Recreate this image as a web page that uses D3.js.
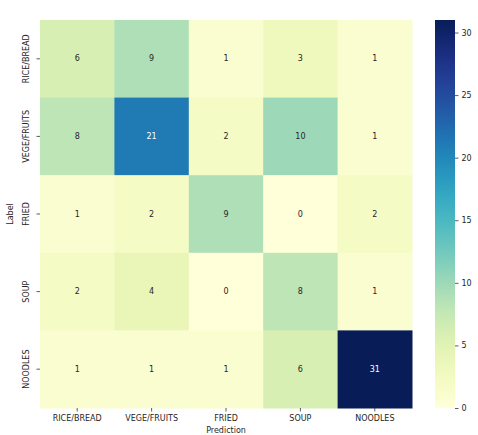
<!DOCTYPE html>
<html><head><meta charset="utf-8">
<script src="https://cdn.jsdelivr.net/npm/d3@7"></script>
<style>body{margin:0;background:#fff;} text{font-family:"DejaVu Sans",sans-serif;}</style>
</head><body>
<svg id="c" width="478" height="435"></svg>
<script>
const categories = ["RICE/BREAD","VEGE/FRUITS","FRIED","SOUP","NOODLES"];
const row0 = [6, 9, 1, 3, 1];
const row1 = [8, 21, 2, 10, 1];
const row2 = [1, 2, 9, 0, 2];
const row3 = [2, 4, 0, 8, 1];
const row4 = [1, 1, 1, 6, 31];
const matrix = [row0,row1,row2,row3,row4];
const colorTicks = [0,5,10,15,20,25,30];
const vmin = 0, vmax = 31;

const svg = d3.select("#c");
const L = 40, T = 20, R = 412, B = 408;
const x = d3.scaleBand().domain(categories).range([L,R]);
const y = d3.scaleBand().domain(categories).range([T,B]);
const color = d3.scaleSequential(d3.interpolateYlGnBu).domain([vmin,vmax]);

const cells = [];
matrix.forEach((r,i)=>r.forEach((v,j)=>cells.push({row:categories[i],col:categories[j],v})));
svg.selectAll("rect.cell").data(cells).join("rect").attr("class","cell")
  .attr("x",d=>x(d.col)).attr("y",d=>y(d.row))
  .attr("width",x.bandwidth()+0.5).attr("height",y.bandwidth()+0.5)
  .attr("fill",d=>color(d.v));
svg.selectAll("text.ann").data(cells).join("text").attr("class","ann")
  .attr("x",d=>x(d.col)+x.bandwidth()/2).attr("y",d=>y(d.row)+y.bandwidth()/2)
  .attr("text-anchor","middle").attr("dominant-baseline","central")
  .attr("font-size",8)
  .attr("fill",d=>d.v/vmax>0.55?"#ffffff":"#262626")
  .text(d=>d.v);

// x axis
const xa = svg.append("g").attr("transform",`translate(0,${B})`)
  .call(d3.axisBottom(x).tickSize(3.5).tickPadding(4));
xa.select(".domain").remove();
xa.selectAll("line").attr("stroke","#333").attr("stroke-width",0.8);
xa.selectAll("text").attr("font-size",8).attr("fill","#262626").attr("font-family","DejaVu Sans");
// y axis
const ya = svg.append("g").attr("transform",`translate(${L},0)`)
  .call(d3.axisLeft(y).tickSize(3.5).tickPadding(4));
ya.select(".domain").remove();
ya.selectAll("line").attr("stroke","#333").attr("stroke-width",0.8);
ya.selectAll("text").attr("font-size",8).attr("fill","#262626").attr("font-family","DejaVu Sans")
  .attr("text-anchor","middle").attr("dy",null).attr("x",null)
  .attr("transform","translate(-11,0) rotate(-90)");

svg.append("text").attr("x",(L+R)/2).attr("y",433).attr("text-anchor","middle")
  .attr("font-size",8).attr("fill","#262626").text("Prediction");
svg.append("text").attr("transform",`translate(13,${(T+B)/2}) rotate(-90)`).attr("text-anchor","middle")
  .attr("font-size",8).attr("fill","#262626").text("Label");

// colorbar
const cbX = 435, cbW = 20;
const cy = d3.scaleLinear().domain([vmin,vmax]).range([B,T]);
const defs = svg.append("defs");
const grad = defs.append("linearGradient").attr("id","g").attr("x1",0).attr("y1",1).attr("x2",0).attr("y2",0);
d3.range(0,1.0001,0.05).forEach(t=>grad.append("stop").attr("offset",t).attr("stop-color",color(vmin+t*(vmax-vmin))));
svg.append("rect").attr("x",cbX).attr("y",T).attr("width",cbW).attr("height",B-T).attr("fill","url(#g)");
const ca = svg.append("g").attr("transform",`translate(${cbX+cbW},0)`)
  .call(d3.axisRight(cy).tickValues(colorTicks).tickSize(3.5).tickPadding(3));
ca.select(".domain").remove();
ca.selectAll("line").attr("stroke","#333").attr("stroke-width",0.8);
ca.selectAll("text").attr("font-size",8).attr("fill","#262626").attr("font-family","DejaVu Sans");
</script>
</body></html>
